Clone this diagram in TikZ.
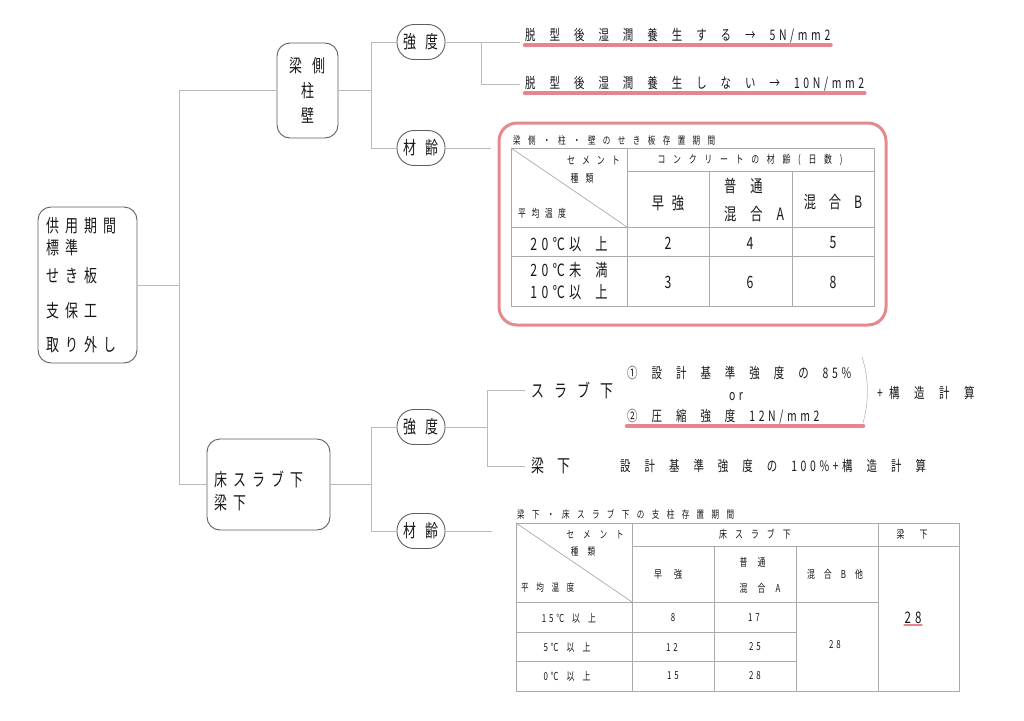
\documentclass[tikz,border=0pt]{standalone}
\usepackage{fontspec}
\setmainfont{Noto Sans CJK JP}
\newfontfamily\jp[FakeStretch=0.72,LetterSpace=25]{Noto Sans CJK JP}
\usetikzlibrary{backgrounds}
\newcommand\jpf[3]{\jp\fontsize{#1}{#2}\selectfont\spaceskip=#3\relax}
\definecolor{ink}{RGB}{25,25,25}
\definecolor{rim}{RGB}{95,95,95}
\definecolor{wiregray}{RGB}{185,185,185}
\definecolor{tabgray}{RGB}{170,170,170}
\definecolor{hl}{RGB}{226,112,122}
\definecolor{boxline}{RGB}{228,138,142}

\tikzstyle{box} = [draw=rim, line width=0.9pt, rounded corners=13pt, inner sep=0pt, text=ink]
\tikzstyle{tag} = [box, rounded corners=17pt, minimum width=48pt, minimum height=35pt, font=\jpf{18}{20}{10pt}]
\tikzstyle{wire} = [draw=wiregray, line width=0.8pt]
\tikzstyle{txt} = [inner sep=0pt, anchor=west, text=ink, font=\jpf{14.5}{17}{14pt}]
\tikzstyle{cell} = [inner sep=0pt, text=ink, font=\jpf{11}{13}{7pt}]
\tikzstyle{cellbig} = [inner sep=0pt, text=ink, font=\jpf{17}{28}{14pt}]
\tikzstyle{tabline} = [draw=tabgray, line width=0.7pt]
\tikzstyle{hilite} = [draw=hl, line width=4.5pt, line cap=round, opacity=0.85]

\begin{document}
\begin{tikzpicture}[x=1pt,y=-1pt]
  \useasboundingbox (0,0) rectangle (1024,720);
  \node (root) at (87.5,285) [box, minimum width=99pt, minimum height=156pt, text width=82pt, align=left, font=\jpf{18}{22}{10pt}] {供 用 期 間\\標 準\\[6pt]せ き 板\\[13pt]支 保 工\\[12pt]取 り 外 し};
  \node (n1) at (307.5,90.5) [box, minimum width=61pt, minimum height=95pt, align=center, font=\jpf{18}{25}{10pt}] {梁 側\\柱\\壁};
  \node (n2) at (268.5,484.5) [box, minimum width=123pt, minimum height=91pt, text width=108pt, align=left, font=\jpf{18}{23}{12pt}] {\rule{0pt}{29pt}床 ス ラ ブ 下\\梁 下};
  \node (k1) at (421,42) [tag] {強 度};
  \node (k2) at (421,148) [tag] {材 齢};
  \node (k3) at (421,427) [tag] {強 度};
  \node (k4) at (421,531) [tag] {材 齢};
  \coordinate (j0) at (179,285);
  \coordinate (j1) at (371,90.5);
  \coordinate (j2) at (371,484.5);
  \coordinate (j3) at (481,42);
  \coordinate (j4) at (487,427);
  \draw [wire] (root.east) -- (j0);
  \draw [wire] (j0) |- (n1.west);
  \draw [wire] (j0) |- (n2.west);
  \draw [wire] (n1.east) -- (j1);
  \draw [wire] (j1) |- (k1.west);
  \draw [wire] (j1) |- (k2.west);
  \draw [wire] (n2.east) -- (j2);
  \draw [wire] (j2) |- (k3.west);
  \draw [wire] (j2) |- (k4.west);

  \node (t1) at (525,36) [txt] {脱 型 後 湿 潤 養 生 す る → 5N/mm2};
  \node (t2) at (525,84) [txt] {脱 型 後 湿 潤 養 生 し な い → 10N/mm2};
  \draw [wire, shorten >=5pt] (k1.east) -- (k1.east -| t1.west);
  \draw [wire] (j3) |- ([xshift=-5pt]t2.west);

  \node (box1) at (692.5,224) [draw=boxline, line width=3pt, rounded corners=18pt, minimum width=387pt, minimum height=202pt] {};
  \draw [wire, shorten >=7pt] (k2.east) -- (k2.east -| box1.west);
  \draw [tabline] (511,148) rectangle (874,306);
  \draw [tabline] (627,148) -- (627,306);
  \draw [tabline] (627,171) -- (874,171);
  \draw [tabline] (511,227) -- (874,227) (511,256) -- (874,256);
  \draw [tabline] (709,171) -- (709,306) (792,171) -- (792,306);
  \draw [tabline] (511,148) -- (627,227);
  \node (ttl1) at (513,141) [cell, anchor=west, font=\jpf{10.5}{12}{7.4pt}] {梁 側 ・ 柱 ・ 壁 の せ き 板 存 置 期 間};
  \node (ce1) at (620,160) [cell, anchor=east] {セ メ ン ト};
  \node (ty1) at (582,178) [cell] {種 類};
  \node (tm1) at (518,213) [cell, anchor=west, font=\jpf{11}{13}{5.4pt}] {平 均 温 度};
  \node (hd1) at (750,160) [cell, font=\jpf{11}{13}{7.7pt}] {コ ン ク リ ー ト の 材 齢 ( 日 数 )};
  \node (h11) at (668,203) [cellbig, font=\jpf{17}{20}{7.8pt}] {早 強};
  \node (h12) at (754,200) [cellbig, align=left] {普 通\\混 合 A};
  \node (h13) at (833,202) [cellbig, font=\jpf{17}{20}{12.8pt}] {混 合 B};
  \node (r11) at (569,244) [cellbig] {20℃以 上};
  \node (r12) at (569,281) [cellbig, align=center, font=\jpf{17}{22}{14pt}] {20℃未 満\\10℃以 上};
  \node (v11) at (668,243) [cellbig] {2};
  \node (v12) at (750,243) [cellbig] {4};
  \node (v13) at (833,243) [cellbig] {5};
  \node (v21) at (668,282) [cellbig] {3};
  \node (v22) at (750,282) [cellbig] {6};
  \node (v23) at (833,282) [cellbig] {8};

  \node (s1) at (531,390) [txt, font=\jpf{18}{20}{10pt}] {ス ラ ブ 下};
  \node (s2) at (531,466) [txt, font=\jpf{18}{20}{13pt}] {梁 下};
  \draw [wire] (k3.east) -- (j4);
  \draw [wire] (j4) |- ([xshift=-6pt]s1.west);
  \draw [wire] (j4) |- ([xshift=-6pt]s2.west);
  \node (f1) at (627,373) [txt] {① 設 計 基 準 強 度 の 85\%};
  \node (f2) at (736,397) [txt, anchor=center] {or};
  \node (f3) at (627,417) [txt] {② 圧 縮 強 度 12N/mm2};
  \coordinate (b1) at (862,357);
  \coordinate (b2) at (863,423);
  \draw [wire, line width=0.6pt] (b1) .. controls (869,378) and (869,402) .. (b2);
  \node (f4) at (877,393) [txt, font=\jpf{14.5}{17}{14.6pt}] {+\kern6pt 構 造 計 算};
  \node (f5) at (620,466) [txt] {設 計 基 準 強 度 の 100\%+構 造 計 算};

  \draw [wire, shorten >=24pt] (k4.east) -- (k4.east -| 516,0);
  \draw [tabline] (516,523) rectangle (959,691);
  \draw [tabline] (632,523) -- (632,691) (878,523) -- (878,691);
  \draw [tabline] (632,546) -- (959,546);
  \draw [tabline] (714,546) -- (714,691) (796,546) -- (796,691);
  \draw [tabline] (516,602) -- (878,602);
  \draw [tabline] (516,632) -- (796,632) (516,661) -- (796,661);
  \draw [tabline] (516,523) -- (632,602);
  \node (ttl2) at (517,514) [cell, anchor=west, font=\jpf{10.5}{12}{7.4pt}] {梁 下 ・ 床 ス ラ ブ 下 の 支 柱 存 置 期 間};
  \node (ce2) at (624,535) [cell, anchor=east, font=\jpf{10.5}{12}{9pt}] {セ メ ン ト};
  \node (ty2) at (583,552) [cell, font=\jpf{10.5}{12}{9pt}] {種 類};
  \node (tm2) at (521,588) [cell, anchor=west, font=\jpf{10.5}{12}{7.6pt}] {平 均 温 度};
  \node (hd2) at (755,534) [cell, font=\jpf{11}{13}{8pt}] {床 ス ラ ブ 下};
  \node (hd3) at (912,534) [cell, font=\jpf{11}{13}{15pt}] {梁 下};
  \node (h21) at (668,574) [cell, font=\jpf{11}{13}{12pt}] {早 強};
  \node (h22) at (760,575) [cell, align=left, font=\jpf{11}{26}{10pt}] {普 通\\混 合 A};
  \node (h23) at (835,574) [cell, font=\jpf{11}{13}{9pt}] {混 合 B 他};
  \node (r21) at (569,618) [cell, font=\jpf{11}{13}{8pt}] {15℃ 以 上};
  \node (r22) at (567,647) [cell, font=\jpf{11}{13}{8pt}] {5℃ 以 上};
  \node (r23) at (567,676) [cell, font=\jpf{11}{13}{8pt}] {0℃ 以 上};
  \node (v31) at (673,618) [cell] {8};
  \node (v32) at (754,618) [cell] {17};
  \node (v41) at (672,647) [cell] {12};
  \node (v42) at (755,647) [cell] {25};
  \node (v51) at (673,676) [cell] {15};
  \node (v52) at (755,676) [cell] {28};
  \node (v6) at (835,645) [cell] {28};
  \node (v7) at (913,618) [cell, font=\jpf{16}{18}{4pt}] {28};

  \begin{scope}[on background layer]
    \fill [white] (0,0) rectangle (1024,720);
    \draw [hilite] ([yshift=-1.5pt]t1.south west) -- ([yshift=-1.5pt]t1.south east);
    \draw [hilite] ([yshift=-1.5pt]t2.south west) -- ([yshift=-1.5pt]t2.south east);
    \draw [hilite] ([yshift=-1.5pt]f3.south west) -- ([yshift=-1.5pt]f3.south west -| b2);
    \draw [hilite, line width=2.5pt] ([yshift=-1pt]v7.south west) -- ([yshift=-1pt]v7.south east);
  \end{scope}
\end{tikzpicture}
\end{document}
